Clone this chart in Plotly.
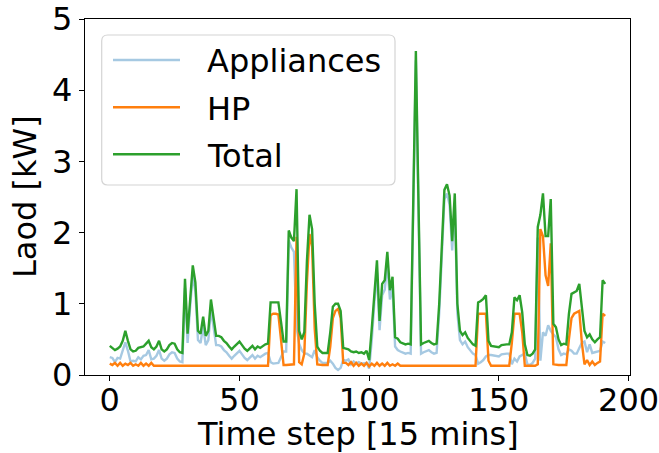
import plotly.graph_objects as go

# Two days of 15-minute load readings (192 steps)
steps = list(range(192))

appliances = [
    0.25, 0.24, 0.18, 0.24, 0.23, 0.35, 0.46, 0.34, 0.19, 0.20,
    0.19, 0.25, 0.22, 0.27, 0.28, 0.35, 0.22, 0.23, 0.27, 0.35,
    0.23, 0.20, 0.23, 0.29, 0.32, 0.31, 0.23, 0.19, 0.18, 1.22,
    0.45, 0.97, 1.41, 1.17, 0.49, 0.45, 0.69, 0.42, 0.49, 0.93,
    0.65, 0.42, 0.42, 0.40, 0.35, 0.32, 0.27, 0.23, 0.27, 0.31,
    0.34, 0.29, 0.24, 0.21, 0.25, 0.28, 0.23, 0.27, 0.25, 0.28,
    0.30, 0.31, 0.18, 0.16, 0.16, 0.17, 0.25, 0.33, 0.33, 1.89,
    1.79, 1.73, 0.67, 0.44, 0.35, 0.30, 0.30, 0.27, 0.25, 0.35,
    0.25, 0.20, 0.17, 0.17, 0.17, 0.20, 0.16, 0.10, 0.07, 0.10,
    0.21, 0.20, 0.22, 0.15, 0.19, 0.16, 0.18, 0.16, 0.17, 0.17,
    0.09, 0.49, 1.02, 1.44, 0.63, 1.12, 1.20, 1.56, 1.06, 1.23,
    0.40, 0.35, 0.33, 0.31, 0.30, 0.31, 0.30, 2.32, 4.42, 2.32,
    0.30, 0.32, 0.34, 0.35, 0.32, 0.30, 0.31, 0.87, 1.67, 2.47,
    2.55, 2.39, 1.75, 2.42, 0.87, 0.49, 0.43, 0.47, 0.39, 0.35,
    0.30, 0.28, 0.16, 0.18, 0.21, 0.26, 0.28, 0.28, 0.27, 0.26,
    0.26, 0.29, 0.30, 0.30, 0.30, 0.15, 0.23, 0.19, 0.26, 0.28,
    0.30, 0.15, 0.14, 0.17, 0.23, 1.93, 0.20, 0.60, 0.55, 0.70,
    0.62, 0.57, 0.53, 0.36, 0.28, 0.30, 0.29, 0.36, 0.34, 0.30,
    0.30, 0.38, 0.45, 0.47, 0.32, 0.43, 0.31, 0.32, 0.33, 0.34,
    0.47, 0.45,
]

hp = [
    0.16, 0.14, 0.17, 0.13, 0.17, 0.13, 0.16, 0.14, 0.17, 0.13,
    0.15, 0.13, 0.17, 0.13, 0.16, 0.13, 0.17, 0.13, 0.13, 0.13,
    0.13, 0.13, 0.13, 0.13, 0.13, 0.13, 0.13, 0.13, 0.13, 0.13,
    0.13, 0.13, 0.13, 0.13, 0.13, 0.13, 0.13, 0.13, 0.13, 0.13,
    0.13, 0.13, 0.13, 0.13, 0.13, 0.13, 0.13, 0.13, 0.13, 0.13,
    0.13, 0.13, 0.13, 0.13, 0.13, 0.13, 0.13, 0.13, 0.13, 0.13,
    0.13, 0.13, 0.84, 0.86, 0.86, 0.85, 0.50, 0.14, 0.14, 0.14,
    0.14, 0.15, 1.94, 0.18, 0.15, 0.30, 1.30, 1.98, 1.80, 0.65,
    0.15, 0.14, 0.14, 0.14, 0.14, 0.40, 0.80, 0.90, 0.93, 0.80,
    0.17, 0.17, 0.14, 0.18, 0.13, 0.17, 0.13, 0.16, 0.13, 0.17,
    0.12, 0.16, 0.13, 0.17, 0.13, 0.16, 0.13, 0.17, 0.13, 0.15,
    0.13, 0.16, 0.13, 0.13, 0.13, 0.13, 0.13, 0.13, 0.13, 0.13,
    0.13, 0.13, 0.13, 0.13, 0.13, 0.13, 0.13, 0.13, 0.13, 0.13,
    0.13, 0.13, 0.13, 0.13, 0.13, 0.13, 0.13, 0.13, 0.13, 0.13,
    0.13, 0.13, 0.86, 0.86, 0.86, 0.86, 0.20, 0.13, 0.13, 0.13,
    0.13, 0.13, 0.13, 0.13, 0.13, 0.45, 0.86, 0.86, 0.86, 0.60,
    0.13, 0.13, 0.13, 0.13, 0.13, 0.15, 2.05, 1.95, 1.40, 1.25,
    1.85, 0.15, 0.14, 0.14, 0.14, 0.14, 0.14, 0.50, 0.80, 0.86,
    0.88, 0.90, 0.45, 0.15, 0.21, 0.14, 0.19, 0.14, 0.17, 0.19,
    0.86, 0.83,
]

total = [
    0.41, 0.38, 0.35, 0.37, 0.40, 0.48, 0.62, 0.48, 0.36, 0.33,
    0.34, 0.38, 0.39, 0.40, 0.44, 0.48, 0.39, 0.36, 0.40, 0.48,
    0.36, 0.33, 0.36, 0.42, 0.45, 0.44, 0.36, 0.32, 0.31, 1.35,
    0.58, 1.10, 1.54, 1.30, 0.62, 0.58, 0.82, 0.55, 0.62, 1.06,
    0.78, 0.55, 0.55, 0.53, 0.48, 0.45, 0.40, 0.36, 0.40, 0.44,
    0.47, 0.42, 0.37, 0.34, 0.38, 0.41, 0.36, 0.40, 0.38, 0.41,
    0.43, 0.44, 1.02, 1.02, 1.02, 1.02, 0.75, 0.47, 0.47, 2.03,
    1.93, 1.88, 2.61, 0.62, 0.50, 0.60, 1.60, 2.25, 2.05, 1.00,
    0.40, 0.34, 0.31, 0.31, 0.31, 0.60, 0.96, 1.00, 1.00, 0.90,
    0.38, 0.37, 0.36, 0.33, 0.32, 0.33, 0.31, 0.32, 0.30, 0.34,
    0.21, 0.65, 1.15, 1.61, 0.76, 1.28, 1.33, 1.73, 1.19, 1.38,
    0.53, 0.51, 0.46, 0.44, 0.43, 0.44, 0.43, 2.45, 4.55, 2.45,
    0.43, 0.45, 0.47, 0.48, 0.45, 0.43, 0.44, 1.00, 1.80, 2.60,
    2.68, 2.52, 1.88, 2.55, 1.00, 0.62, 0.56, 0.60, 0.52, 0.48,
    0.43, 0.41, 1.02, 1.04, 1.07, 1.12, 0.48, 0.41, 0.40, 0.39,
    0.39, 0.42, 0.43, 0.43, 0.43, 0.60, 1.09, 1.05, 1.12, 0.88,
    0.43, 0.28, 0.27, 0.30, 0.36, 2.08, 2.25, 2.55, 1.95, 1.95,
    2.47, 0.72, 0.67, 0.50, 0.42, 0.44, 0.43, 0.86, 1.14, 1.16,
    1.18, 1.28, 0.90, 0.62, 0.53, 0.57, 0.50, 0.46, 0.50, 0.53,
    1.33, 1.28,
]

series_names = ["Appliances", "HP", "Total"]
series_colors = ["#a6c9e2", "#ff7f0e", "#2ca02c"]
x_ticks = [0, 50, 100, 150, 200]
y_ticks = [0, 1, 2, 3, 4, 5]
x_title = "Time step [15 mins]"
y_title = "Laod [kW]"

FONT = "DejaVu Sans"
FS = 32
W, H = 659, 453
ML, MR, MT, MB = 85, 29, 19, 78
PW, PH = W - ML - MR, H - MT - MB


def px_x(px):
    return (px - ML) / PW


def px_y(py):
    return (H - MB - py) / PH


fig = go.Figure()
for name, color, values in zip(series_names, series_colors, [appliances, hp, total]):
    fig.add_trace(go.Scatter(
        x=steps, y=values, mode="lines", name=name,
        line=dict(color=color, width=2.4), showlegend=False,
    ))

axis_common = dict(
    showgrid=False, zeroline=False, showline=True, mirror=True,
    linecolor="black", linewidth=1.3, ticks="outside", ticklen=5,
    tickwidth=1.3, tickcolor="black", automargin=False,
    ticklabeloverflow="allow",
    tickfont=dict(family=FONT, size=FS, color="black"),
)

fig.update_xaxes(range=[-9.55, 200.55], tickvals=x_ticks,
                 ticktext=[str(t) for t in x_ticks],
                 ticklabelstandoff=-9, **axis_common)
fig.update_yaxes(range=[0, 5], tickvals=y_ticks,
                 ticktext=[str(t) for t in y_ticks], **axis_common)

# Legend frame with rounded corners, drawn in pixel space
bx0, by0, bx1, by1, r = 101.7, 35.0, 395.0, 185.0, 6.0
pts = [
    ("M", bx0 + r, by0), ("L", bx1 - r, by0), ("Q", bx1, by0, bx1, by0 + r),
    ("L", bx1, by1 - r), ("Q", bx1, by1, bx1 - r, by1), ("L", bx0 + r, by1),
    ("Q", bx0, by1, bx0, by1 - r), ("L", bx0, by0 + r), ("Q", bx0, by0, bx0 + r, by0),
]
path = ""
for p in pts:
    cmd, coords = p[0], p[1:]
    parts = []
    for i in range(0, len(coords), 2):
        parts.append(f"{px_x(coords[i]):.5f},{px_y(coords[i + 1]):.5f}")
    path += cmd + " ".join(parts) + " "
path += "Z"

shapes = [dict(type="path", path=path, xref="paper", yref="paper",
               fillcolor="rgba(255,255,255,0.8)",
               line=dict(color="#d4d4d4", width=1.2), layer="above")]
annotations = []
legend_rows = [60.0, 107.3, 154.3]
for name, color, ly in zip(series_names, series_colors, legend_rows):
    shapes.append(dict(type="line", xref="paper", yref="paper",
                       x0=px_x(113), x1=px_x(180), y0=px_y(ly), y1=px_y(ly),
                       line=dict(color=color, width=2.6), layer="above"))
    annotations.append(dict(text=name, xref="paper", yref="paper",
                            x=px_x(205), y=px_y(ly + 1.5), xanchor="left",
                            yanchor="middle", showarrow=False,
                            font=dict(family=FONT, size=FS, color="black")))

annotations.append(dict(text=x_title, xref="paper", yref="paper",
                        x=0.5, y=px_y(434), xanchor="center", yanchor="middle",
                        showarrow=False,
                        font=dict(family=FONT, size=FS, color="black")))
annotations.append(dict(text=y_title, xref="paper", yref="paper",
                        x=px_x(25), y=0.5, xanchor="center", yanchor="middle",
                        textangle=-90, showarrow=False,
                        font=dict(family=FONT, size=FS, color="black")))

fig.update_layout(
    width=W, height=H,
    margin=dict(l=ML, r=MR, t=MT, b=MB, pad=0, autoexpand=False),
    plot_bgcolor="white", paper_bgcolor="white",
    shapes=shapes, annotations=annotations,
)

fig.write_html("out.html")
